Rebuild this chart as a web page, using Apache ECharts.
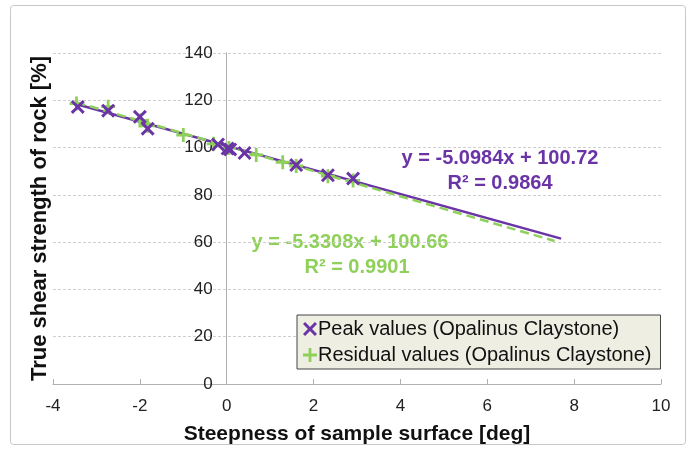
<!DOCTYPE html>
<html>
<head>
<meta charset="utf-8">
<script src="https://cdn.jsdelivr.net/npm/echarts@6/dist/echarts.min.js"></script>
<style>
  html, body { margin: 0; padding: 0; background: #fff; }
  #chart { width: 694px; height: 450px; }
</style>
</head>
<body>
<div id="chart"></div>
<script>
// peak values (purple x)
var peakX = [-3.43, -2.73, -2.0, -1.82, -0.2, 0.02, 0.08, 0.41, 1.6, 2.33, 2.91];
var peakY = [117.2, 115.6, 113, 108, 101.3, 99.6, 99.2, 97.7, 92.6, 88.3, 86.9];
// residual values (green +)
var resX = [-3.46, -2.73, -2.0, -1.82, -1.0, -0.3, 0.05, 0.68, 1.29, 1.6, 2.33, 2.91];
var resY = [118.6, 117.3, 111.5, 109.2, 105.3, 101.6, 99.8, 96.9, 93.8, 92.2, 87.9, 86.1];
// trend line end points
var peakTrendX = [-3.45, 7.7];
var peakTrendY = [118.3, 61.5];
var resTrendX = [-3.46, 7.55];
var resTrendY = [119.1, 60.5];

var purple = '#6a34a6';
var green = '#8fd05a';
var crossPath = 'path://M0,1.5L1.5,0L5,3.5L8.5,0L10,1.5L6.5,5L10,8.5L8.5,10L5,6.5L1.5,10L0,8.5L3.5,5Z';
var plusPath = 'path://M4,0H6V4H10V6H6V10H4V6H0V4H4Z';

function pairs(xs, ys) {
  return xs.map(function (x, i) { return [x, ys[i]]; });
}

var chart = echarts.init(document.getElementById('chart'));
var font = 'Liberation Sans, Arial, sans-serif';
var gridLeft = 53, gridRight = 33;
var zeroOffset = (694 - gridLeft - gridRight) * 4 / 14;

chart.setOption({
  animation: false,
  backgroundColor: '#fff',
  textStyle: { fontFamily: font },
  grid: { left: gridLeft, right: gridRight, top: 53, bottom: 66 },
  xAxis: {
    type: 'value', min: -4, max: 10, interval: 2,
    name: 'Steepness of sample surface [deg]',
    nameLocation: 'middle', nameGap: 40,
    nameTextStyle: { fontSize: 21, fontWeight: 'bold', color: '#111', fontFamily: font },
    axisLine: { onZero: false, lineStyle: { color: '#b0b0b0', width: 1 } },
    axisTick: { show: true, inside: true, length: 5, lineStyle: { color: '#b0b0b0' } },
    axisLabel: { fontSize: 17, color: '#222', margin: 14, fontFamily: font },
    splitLine: { show: false }
  },
  yAxis: {
    type: 'value', min: 0, max: 140, interval: 20,
    offset: -zeroOffset,
    name: 'True shear strength of rock [%]',
    nameLocation: 'middle', nameGap: 176, nameRotate: 90,
    nameTextStyle: { fontSize: 22, fontWeight: 'bold', color: '#111', fontFamily: font },
    axisLine: { onZero: false, lineStyle: { color: '#b0b0b0', width: 1 } },
    axisTick: { show: false },
    axisLabel: { fontSize: 17, color: '#222', margin: 14, fontFamily: font },
    splitLine: { show: true, lineStyle: { color: '#cfcfcf', type: [3, 2], width: 1 } }
  },
  legend: {
    orient: 'vertical', left: 297, top: 315,
    data: ['Peak values (Opalinus Claystone)', 'Residual values (Opalinus Claystone)'],
    backgroundColor: '#eeeee3', borderColor: '#444', borderWidth: 1, borderRadius: 0,
    padding: [2, 9, 2, 6], itemGap: 2, itemWidth: 14, itemHeight: 14,
    textStyle: { fontSize: 20, lineHeight: 24, color: '#111', fontFamily: font, padding: [0, 0, 0, -4] }
  },
  graphic: [
    { type: 'rect', shape: { x: 10.5, y: 5.5, width: 675, height: 439, r: 3 },
      style: { fill: 'none', stroke: '#c8c8c8', lineWidth: 1 }, silent: true },
    { type: 'text', x: 500, y: 158, style: { text: 'y = -5.0984x + 100.72', fill: purple, font: 'bold 20px ' + font, textAlign: 'center', textVerticalAlign: 'middle' } },
    { type: 'text', x: 500, y: 183, style: { text: 'R² = 0.9864', fill: purple, font: 'bold 20px ' + font, textAlign: 'center', textVerticalAlign: 'middle' } },
    { type: 'text', x: 350, y: 242, style: { text: 'y = -5.3308x + 100.66', fill: green, font: 'bold 20px ' + font, textAlign: 'center', textVerticalAlign: 'middle' } },
    { type: 'text', x: 357, y: 267, style: { text: 'R² = 0.9901', fill: green, font: 'bold 20px ' + font, textAlign: 'center', textVerticalAlign: 'middle' } }
  ],
  series: [
    {
      name: 'Peak trend', type: 'line', data: pairs(peakTrendX, peakTrendY),
      symbol: 'none', lineStyle: { color: purple, width: 2.5 }, z: 3
    },
    {
      name: 'Residual trend', type: 'line', data: pairs(resTrendX, resTrendY),
      symbol: 'none', lineStyle: { color: green, width: 2.5, type: [9, 5] }, z: 4
    },
    {
      name: 'Residual values (Opalinus Claystone)', type: 'scatter', data: pairs(resX, resY),
      symbol: plusPath, symbolSize: 14, itemStyle: { color: green, opacity: 1 }, z: 5
    },
    {
      name: 'Peak values (Opalinus Claystone)', type: 'scatter', data: pairs(peakX, peakY),
      symbol: crossPath, symbolSize: 14, itemStyle: { color: purple, opacity: 1 }, z: 6
    }
  ]
});
</script>
</body>
</html>
